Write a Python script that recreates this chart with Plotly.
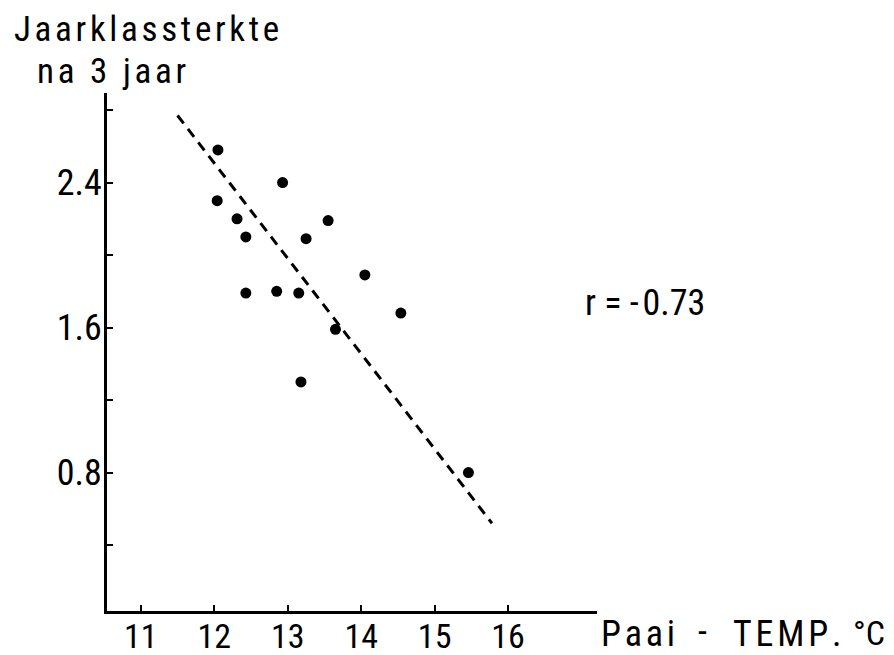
import plotly.graph_objects as go

# Data
temp = [12.05, 12.93, 12.04, 12.31, 13.55, 12.43, 13.25, 14.05, 12.43, 12.85, 13.15, 14.54, 13.65, 13.18, 15.46]
strength = [2.58, 2.40, 2.30, 2.20, 2.19, 2.10, 2.09, 1.89, 1.79, 1.80, 1.79, 1.68, 1.59, 1.30, 0.80]

fit_x = [11.5, 15.78]
fit_y = [2.77, 0.52]

x_ticks = [11, 12, 13, 14, 15, 16]
x_ticktext = ["11", "12", "13", "14", "15", "16"]
y_ticks = [0.4, 0.8, 1.2, 1.6, 2.0, 2.4, 2.8]
y_ticktext = [" ", "0.8", " ", "1.6", " ", "2.4", " "]

FONT = "Liberation Sans Narrow, Roboto Condensed, Liberation Sans, sans-serif"
TEXT_SIZE = 36

fig = go.Figure()
fig.add_trace(go.Scatter(x=fit_x, y=fit_y, mode="lines",
                         line=dict(color="black", width=3, dash="10px,7px"),
                         hoverinfo="skip", showlegend=False))
fig.add_trace(go.Scatter(x=temp, y=strength, mode="markers",
                         marker=dict(color="black", size=11),
                         showlegend=False))

W, H = 894, 655
L, T = 107, 93
R = W - 597
B = H - 611

fig.update_layout(
    width=W, height=H,
    margin=dict(l=L, r=R, t=T, b=B, pad=0, autoexpand=False),
    plot_bgcolor="white", paper_bgcolor="white",
    font=dict(family=FONT, color="black", size=TEXT_SIZE),
    showlegend=False,
)
fig.update_xaxes(range=[10.54, 17.21], showgrid=False, zeroline=False, automargin=False,
                 showline=True, linecolor="black", linewidth=3,
                 ticks="inside", ticklen=6, tickwidth=2, tickcolor="black",
                 tickvals=x_ticks, ticktext=x_ticktext,
                 tickfont=dict(family=FONT, size=34), ticklabelstandoff=-7)
fig.update_yaxes(range=[0.036, 2.894], showgrid=False, zeroline=False, automargin=False,
                 showline=True, linecolor="black", linewidth=3,
                 ticks="inside", ticklen=6, tickwidth=2, tickcolor="black",
                 tickvals=y_ticks, ticktext=y_ticktext,
                 tickfont=dict(family=FONT, size=36), ticklabelstandoff=-5)

pw = W - L - R
ph = H - T - B


def px(x):
    return (x - L) / pw


def py(y):
    return (H - B - y) / ph


HS = "\u200a"
EN = "\u2002"
anns = [
    dict(text=HS.join("Jaarklassterkte"), x=12, y=29, anchor="left", size=35),
    dict(text=EN.join([HS.join("na"), "3", HS.join("jaar")]), x=35, y=71, anchor="left", size=35),
    dict(text="r = -" + HS + "0.73", x=583, y=303, anchor="left", size=TEXT_SIZE),
    dict(text=HS.join("Paai"), x=599, y=634, anchor="left", size=TEXT_SIZE),
    dict(text="-", x=702, y=632, anchor="center", size=TEXT_SIZE),
    dict(text=HS.join("TEMP."), x=731, y=634, anchor="left", size=TEXT_SIZE),
    dict(text="°C", x=851, y=633, anchor="left", size=34),
]
for a in anns:
    fig.add_annotation(text=a["text"], x=px(a["x"]), y=py(a["y"]), xref="paper", yref="paper",
                       xanchor=a["anchor"], yanchor="middle", showarrow=False,
                       font=dict(family=FONT, size=a["size"], color="black"))

# remove the default 8px page margin so the figure fills the window exactly
fig.write_html("out.html",
               config={"displayModeBar": False, "staticPlot": True},
               post_script="document.body.style.margin='0';document.body.style.overflow='hidden';")
